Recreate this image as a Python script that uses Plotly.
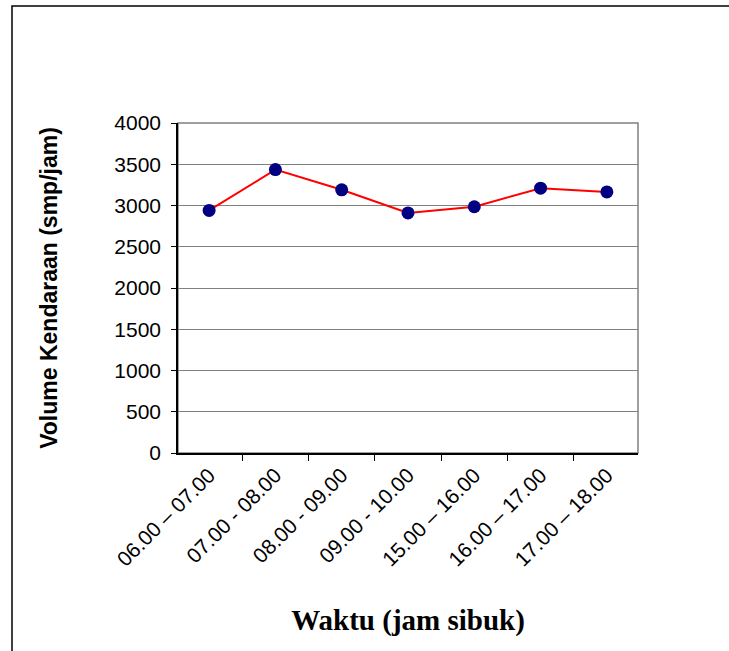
import plotly.graph_objects as go

waktu = ['06.00 – 07.00', '07.00 - 08.00', '08.00 - 09.00', '09.00 - 10.00',
         '15.00 – 16.00', '16.00 – 17.00', '17.00 – 18.00']
volume = [2940, 3435, 3190, 2910, 2985, 3210, 3165]
y_ticks = [0, 500, 1000, 1500, 2000, 2500, 3000, 3500, 4000]

fig = go.Figure()

fig.add_scatter(x=waktu,
                y=volume,
                mode='lines+markers',
                line=dict(color='#ff0000', width=2),
                marker=dict(color='#000080', size=13),
                showlegend=False)

fig.update_layout(width=729,
                  height=651,
                  paper_bgcolor='white',
                  plot_bgcolor='white',
                  margin=dict(l=178, r=91, t=123, b=198),
                  font=dict(family='Liberation Sans, Arial', color='black'))

fig.update_xaxes(type='category',
                 tickangle=-45,
                 tickson='boundaries',
                 ticks='outside',
                 ticklen=6,
                 tickcolor='black',
                 showline=True,
                 linecolor='black',
                 linewidth=1.5,
                 showgrid=False,
                 tickfont=dict(size=21),
                 title=dict(text='<b>Waktu (jam sibuk)</b>',
                            font=dict(family='Liberation Serif, Times New Roman', size=29),
                            standoff=40))

fig.update_yaxes(range=[0, 4000],
                 tickvals=y_ticks,
                 ticks='outside',
                 ticklen=5,
                 tickcolor='black',
                 ticklabelstandoff=6,
                 showline=True,
                 linecolor='black',
                 linewidth=1.5,
                 showgrid=True,
                 gridcolor='#808080',
                 gridwidth=1,
                 zeroline=False,
                 tickfont=dict(size=21),
                 title=dict(text='<b>Volume Kendaraan (smp/jam)</b>',
                            font=dict(size=23),
                            standoff=50))

# gray frame of plot area
fig.add_shape(type='rect', xref='paper', yref='paper', x0=0, y0=0, x1=1, y1=1,
              line=dict(color='#808080', width=1.5), layer='below')

# outer chart border
fig.add_shape(type='rect', xref='paper', yref='paper',
              x0=(12 - 178) / 460, y0=(453 - 662) / 330,
              x1=(740 - 178) / 460, y1=(453 - 6) / 330,
              line=dict(color='black', width=1.5))

fig.write_html("out.html", config={'displayModeBar': False},
               post_script="document.body.style.margin = '0';")
